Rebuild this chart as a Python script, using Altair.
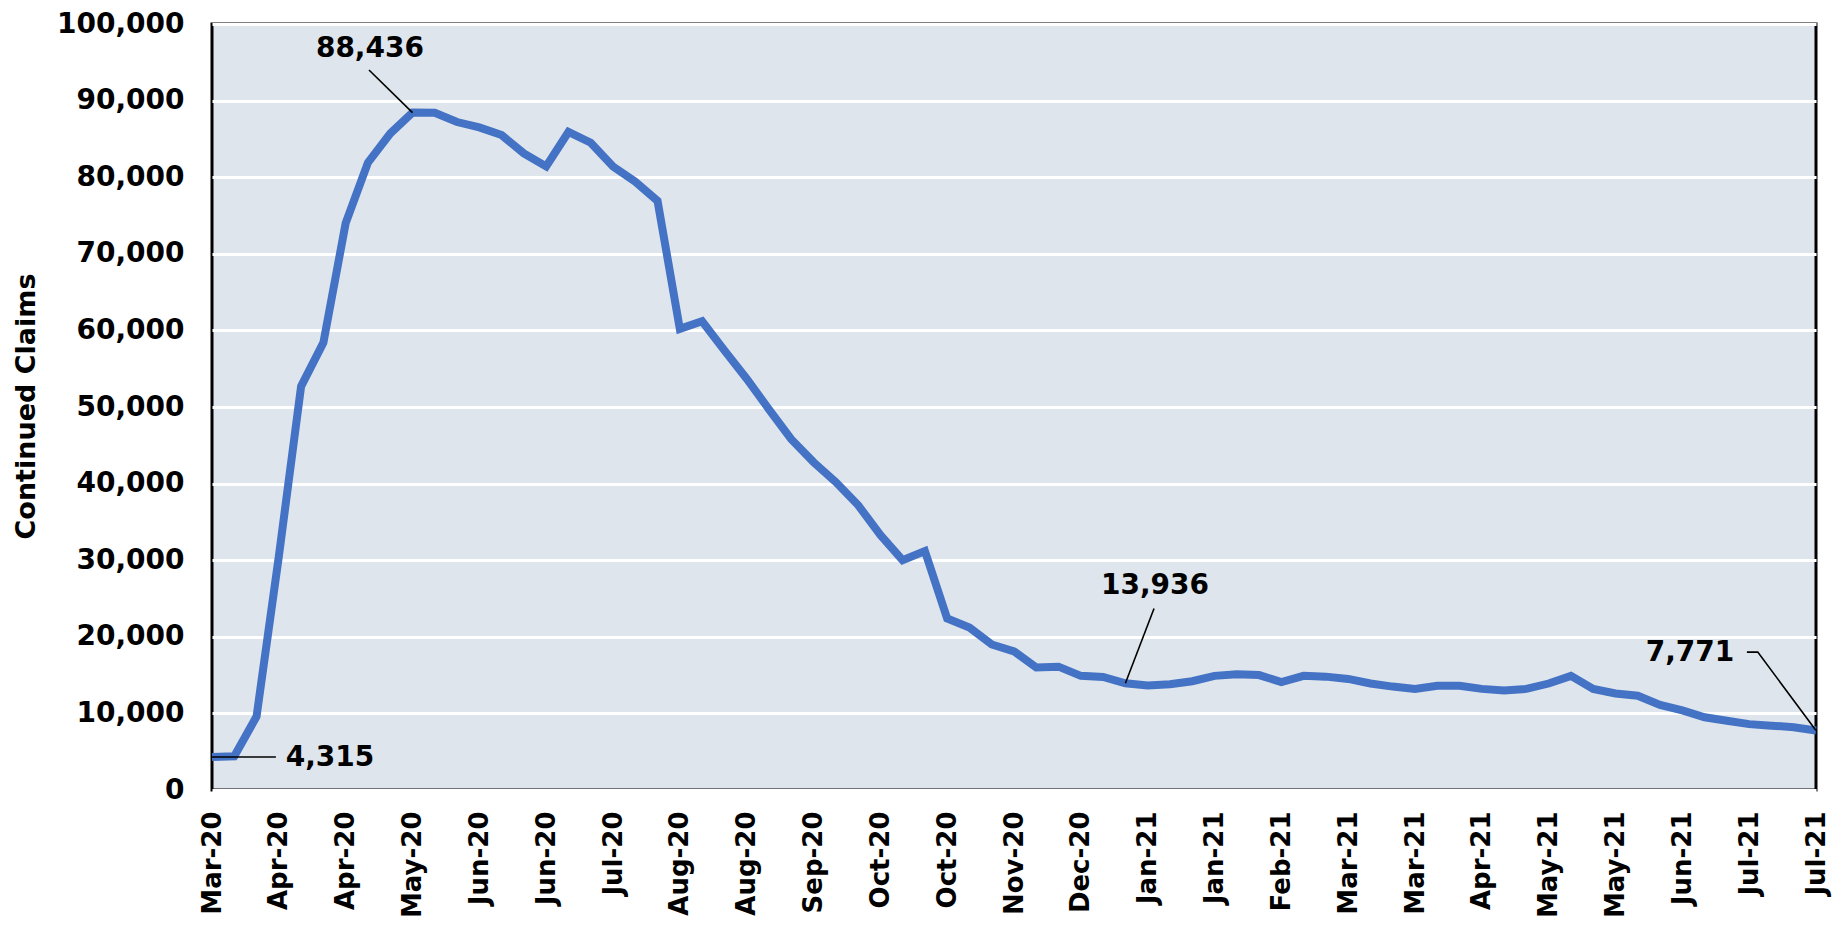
import altair as alt
import pandas as pd

# ---- data (weekly continued claims) ----
first_week = "2020-03-14"
claims = [
    4315, 4400, 9600, 30500, 52700, 58400, 74000, 81900, 85700, 88436,
    88400, 87200, 86500, 85500, 83100, 81400, 85900, 84500, 81400, 79400,
    76900, 60200, 61200, 57400, 53700, 49700, 45800, 42800, 40200, 37200,
    33300, 30000, 31200, 22400, 21200, 19000, 18100, 16000, 16100, 14900,
    14750, 13936, 13650, 13800, 14200, 14900, 15100, 15000, 14100, 14900,
    14800, 14500, 13900, 13500, 13200, 13600, 13600, 13200, 13000, 13200,
    13900, 14900, 13200, 12600, 12300, 11100, 10400, 9500, 9050, 8600,
    8400, 8200, 7771,
]
weeks = pd.date_range(first_week, periods=len(claims), freq="7D")
tick_weeks = weeks[::3]
y_ticks = [0, 10000, 20000, 30000, 40000, 50000, 60000, 70000, 80000, 90000, 100000]

# ---- annotations ----
ann_text = ["88,436", "4,315", "13,936", "7,771"]
ann_x = ["2020-05-02T15:00:00", "2020-04-20T02:00:00", "2021-01-04T07:00:00", "2021-06-21T10:00:00"]
ann_y = [96700, 4200, 26600, 17900]

leader_id = ["a", "a", "b", "b", "c", "c", "d", "d", "d"]
leader_x = ["2020-05-02T08:00:00", "2020-05-16T00:00:00",
            "2020-03-14T00:00:00", "2020-04-03T02:00:00",
            "2021-01-04T00:00:00", "2020-12-26T00:00:00",
            "2021-07-09T07:00:00", "2021-07-12T17:00:00", "2021-07-31T00:00:00"]
leader_y = [94000, 88436, 4315, 4315, 23700, 13936, 18000, 18000, 7771]

df = pd.DataFrame({"week": weeks, "claims": claims})
ann_df = pd.DataFrame({"week": ann_x, "claims": ann_y, "label": ann_text})
lead_df = pd.DataFrame({"id": leader_id, "week": leader_x, "claims": leader_y,
                        "seq": list(range(len(leader_id)))})

FONT = "DejaVu Sans"


def dt(d):
    return alt.DateTime(year=int(d.year), month=int(d.month), date=int(d.day))


x_scale = alt.Scale(domain=[dt(weeks[0]), dt(weeks[-1])], nice=False)
y_scale = alt.Scale(domain=[0, 100000], nice=False)

x_axis = alt.Axis(values=[dt(d) for d in tick_weeks], format="%b-%y",
                  labelAngle=270, labelFont=FONT, labelFontWeight="bold",
                  labelFontSize=26, labelColor="black", labelPadding=21,
                  ticks=False, domain=False, grid=False, title=None,
                  labelOverlap=False)
y_axis = alt.Axis(values=y_ticks, format=",.0f", labelFont=FONT,
                  labelFontWeight="bold", labelFontSize=28,
                  labelColor="black", labelPadding=28, ticks=False,
                  domain=False, grid=True, gridColor="white",
                  gridWidth=3, title="Continued Claims",
                  titleFont=FONT, titleFontWeight="bold",
                  titleFontSize=27, titleColor="black",
                  titleAngle=270, titleX=-186, titleY=382,
                  titleAlign="center", titleBaseline="middle")

line = alt.Chart(df).mark_line(color="#4472C4", strokeWidth=8).encode(
    x=alt.X("week:T", scale=x_scale, axis=x_axis),
    y=alt.Y("claims:Q", scale=y_scale, axis=y_axis),
)

leaders = alt.Chart(lead_df).mark_line(color="black", strokeWidth=1.6).encode(
    x=alt.X("week:T", scale=x_scale, axis=x_axis),
    y=alt.Y("claims:Q", scale=y_scale, axis=y_axis),
    detail="id:N",
    order="seq:Q",
)

labels = alt.Chart(ann_df).mark_text(
    font=FONT, fontWeight="bold", fontSize=28, color="black",
    align="center", baseline="middle",
).encode(
    x=alt.X("week:T", scale=x_scale, axis=x_axis),
    y=alt.Y("claims:Q", scale=y_scale, axis=y_axis),
    text="label:N",
)

chart = alt.layer(line, leaders, labels).properties(
    width=1604, height=766,
    autosize=alt.AutoSizeParams(type="none"),
    padding={"left": 204, "top": 16, "right": 16, "bottom": 134},
    background="white",
).configure_view(
    stroke="black", strokeWidth=3, fill="#DEE5EC",
)

chart.save("out.html", embed_options={"renderer": "svg", "actions": False})
